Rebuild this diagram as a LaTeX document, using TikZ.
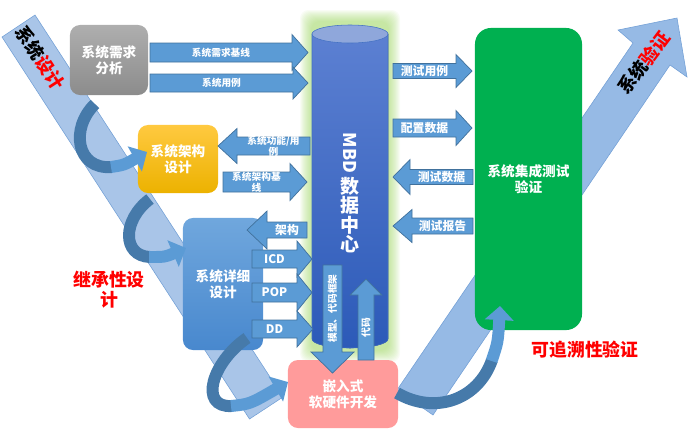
\documentclass[tikz,border=0pt]{standalone}
\usepackage{fontspec}
\setmainfont{Noto Sans CJK SC}
\usetikzlibrary{arrows.meta}
\definecolor{bandblue}{RGB}{169,197,232}
\definecolor{bandblueb}{RGB}{150,186,229}
\definecolor{bandline}{RGB}{115,160,214}
\definecolor{arrowblue}{RGB}{91,155,213}
\definecolor{arrowline}{RGB}{65,113,156}
\definecolor{curvedark}{RGB}{70,122,170}
\definecolor{glowgreen}{RGB}{146,208,80}
\definecolor{cyltop}{RGB}{92,128,210}
\definecolor{cylbottom}{RGB}{44,90,184}
\definecolor{cylface}{RGB}{143,167,219}
\definecolor{cylline}{RGB}{68,114,196}
\definecolor{testgreen}{RGB}{0,176,80}
\definecolor{embedpink}{RGB}{255,155,155}
\definecolor{reqtop}{RGB}{174,174,174}
\definecolor{reqbottom}{RGB}{140,140,140}
\definecolor{archtop}{RGB}{255,201,64}
\definecolor{archbottom}{RGB}{236,178,0}
\definecolor{detailtop}{RGB}{112,167,221}
\definecolor{detailbottom}{RGB}{72,136,206}
\newcommand{\hblock}[9][]{%
  \filldraw[blockshape] (#3,#6-#7) -- (#4,#6-#7) -- (#4,#6-#8) -- (#5,#6) -- (#4,#6+#8) -- (#4,#6+#7) -- (#3,#6+#7) -- cycle;
  \node[blocktext,#1] (#2) at ({(#3+#4)/2},#6) {#9};}
\newcommand{\vblock}[9][]{%
  \filldraw[blockshape] (#6-#7,#3) -- (#6-#7,#4) -- (#6-#8,#4) -- (#6,#5) -- (#6+#8,#4) -- (#6+#7,#4) -- (#6+#7,#3) -- cycle;
  \node[blocktext,rotate=90,#1] (#2) at (#6,{(#3+#4)/2}) {#9};}
\begin{document}
\begin{tikzpicture}[x=0.025cm,y=-0.025cm,
    blockshape/.style={fill=arrowblue,draw=arrowline,line width=0.5pt},
    blocktext/.style={text=white,align=center,inner sep=0pt,font=\bfseries\fontsize{6.9}{8}\selectfont},
    bigblock/.style={font=\bfseries\fontsize{8.4}{10}\selectfont},
    boxnode/.style={rounded corners=0.25cm,text=white,align=center,inner sep=0pt,font=\bfseries\fontsize{9.7}{11.5}\selectfont},
    bandtext/.style={font=\bfseries\fontsize{12.8}{14}\selectfont},
    redlabel/.style={text=red,align=center,font=\bfseries\fontsize{12.7}{14.3}\selectfont},
    curvepart/.style={draw=curvedark,line width=8.5pt},
    curvehead/.style={draw=arrowblue,line width=8.5pt,-{Triangle[length=10pt,width=20pt]}}]
  \useasboundingbox (0,0) rectangle (689,430);
  \filldraw[fill=bandblue,draw=bandline] (2,37) -- (35,15) -- (283,397) -- (249.5,419) -- cycle;
  \filldraw[fill=bandblueb,draw=bandline] (397,390) -- (633,43) -- (618,30) -- (677,18) -- (687,77) -- (670,65) -- (433,415) -- cycle;
  \node[bandtext,rotate=-57] (designlabel) at (40,58) {系统\textcolor{red}{设计}};
  \node[bandtext,rotate=53] (verifylabel) at (644,63) {系统\textcolor{red}{验证}};
  \foreach \g in {1,...,12}
    \fill[glowgreen,opacity=0.06,rounded corners=6pt] (312-\g,22-\g) rectangle (388+\g,350+\g);
  \filldraw[top color=cyltop,bottom color=cylbottom,draw=cylline] (312,34) -- (312,339)
    arc[start angle=180,end angle=0,x radius=38,y radius=9] -- (388,34) -- cycle;
  \filldraw[fill=cylface,draw=cylline] (350,34) ellipse [x radius=38,y radius=9];
  \node[rotate=-90,text=white,inner sep=0pt,font=\bfseries\fontsize{12.5}{13}\selectfont] (mbd) at (350,153) {MBD};
  \node[text=white,align=center,inner sep=0pt,font=\bfseries\fontsize{13.5}{13.7}\selectfont] (mbdcn) at (350,215) {数\\据\\中\\心};
  \node[boxnode,top color=reqtop,bottom color=reqbottom,minimum width=1.95cm,minimum height=1.75cm] (req) at (109,60) {系统需求\\分析};
  \node[boxnode,top color=archtop,bottom color=archbottom,minimum width=2cm,minimum height=1.7cm] (arch) at (178,159) {系统架构\\设计};
  \node[boxnode,top color=detailtop,bottom color=detailbottom,minimum width=2cm,minimum height=3.3cm] (detail) at (223,284) {系统详细\\设计};
  \node[boxnode,fill=embedpink,minimum width=2.75cm,minimum height=1.7cm] (embed) at (343,394) {嵌入式\\软硬件开发};
  \node[boxnode,fill=testgreen,rounded corners=0.4cm,minimum width=2.675cm,minimum height=7.55cm] (test) at (528.5,179) {系统集成测试\\验证};
  \hblock{reqbase}{150}{292}{308}{52.5}{9.5}{18}{系统需求基线}
  \hblock{usecase}{150}{293}{308}{83}{9}{16}{系统用例}
  \hblock{funcuse}{310}{237}{218}{146}{9}{17.5}{系统功能/用\\例}
  \hblock{archbase}{223}{290}{307}{182}{10}{18.5}{系统架构基\\线}
  \hblock[bigblock]{archin}{307}{267}{247}{230}{8}{19}{架构}
  \hblock[bigblock]{icd}{252}{297}{312}{259}{9}{18}{ICD}
  \hblock[bigblock]{pop}{252}{297}{312}{292.5}{9.5}{18.5}{POP}
  \hblock[bigblock]{dd}{252}{297}{313}{329}{9}{18}{DD}
  \hblock[bigblock]{testcase}{393}{456}{472}{71}{7.5}{16.5}{测试用例}
  \hblock[bigblock]{config}{393}{456}{472}{128}{9}{17.5}{配置数据}
  \hblock[bigblock]{testdata}{473}{410}{393}{177}{7.5}{17.5}{测试数据}
  \hblock[bigblock]{report}{473}{412}{393}{226}{8}{16.5}{测试报告}
  \vblock{model}{265}{352}{373}{332.5}{9.5}{21.5}{模型、代码框架}
  \vblock{code}{360}{295}{279}{366}{8}{16}{代码}
  \draw[curvepart] (95,104) .. controls (70,128) and (76,170) .. (112,167);
  \draw[curvehead] (111,167) .. controls (124,165) .. (147,152);
  \draw[curvepart] (150,199) .. controls (122,220) and (122,256) .. (150,257);
  \draw[curvehead] (149,257) .. controls (165,257) .. (186,248);
  \draw[curvepart] (247,338) .. controls (212,362) and (198,408) .. (232,406);
  \draw[curvehead] (231,406) .. controls (250,404) .. (288,382);
  \draw[curvepart] (397,393) .. controls (435,415) and (478,400) .. (492,360);
  \draw[curvehead] (491.6,361) .. controls (498,342) .. (500,306);
  \node[redlabel] (inherit) at (109,290) {继承性设\\计};
  \node[redlabel] (trace) at (585,350) {可追溯性验证};
\end{tikzpicture}
\end{document}
